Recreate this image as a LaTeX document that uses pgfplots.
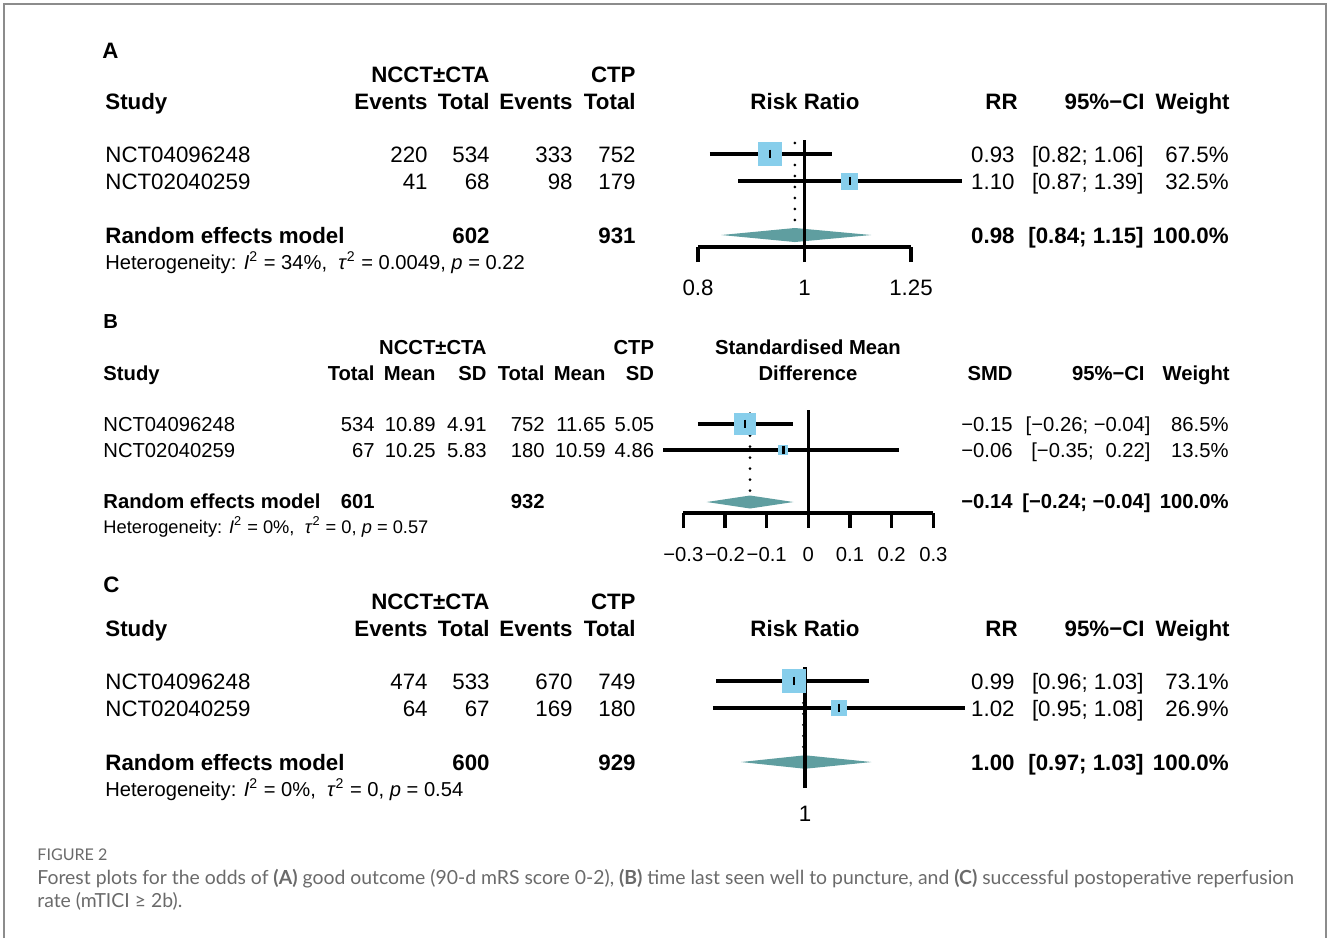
\documentclass[border=0pt]{standalone}
\usepackage{pgfplots}
\pgfplotsset{compat=1.18}
\usepackage{fontspec}
\setmainfont{Liberation Sans}
\newfontfamily\capfont{Lato}
\definecolor{sq}{HTML}{87CEEB}
\definecolor{dia}{HTML}{5F9EA0}
\definecolor{framec}{HTML}{8C8C8C}
\definecolor{capgray}{HTML}{6A6A6A}
\newcommand{\fs}{\fontsize{11.15}{13}\selectfont}
\newcommand{\fb}{\fontsize{10.12}{12}\selectfont}
\newcommand{\fh}{\fontsize{10.07}{12}\selectfont}
\newcommand{\fhb}{\fontsize{9.14}{11}\selectfont}
\newcommand{\het}[3]{Heterogeneity: \textit{I}\textsuperscript{2} = #1,\ \ \textit{τ}\textsuperscript{2} = #2, \textit{p} = #3}
\tikzset{
  R/.style={anchor=base east, inner sep=0pt, font=\fs},
  L/.style={anchor=base west, inner sep=0pt, font=\fs},
  RB/.style={anchor=base east, inner sep=0pt, font=\fs\bfseries},
  LB/.style={anchor=base west, inner sep=0pt, font=\fs\bfseries},
  CB/.style={anchor=base, inner sep=0pt, font=\fs\bfseries},
  r/.style={anchor=base east, inner sep=0pt, font=\fb},
  l/.style={anchor=base west, inner sep=0pt, font=\fb},
  rb/.style={anchor=base east, inner sep=0pt, font=\fb\bfseries},
  lb/.style={anchor=base west, inner sep=0pt, font=\fb\bfseries},
  cb/.style={anchor=base, inner sep=0pt, font=\fb\bfseries},
}
\pgfplotsset{
  forest/.style={
    scale only axis, clip=false, anchor=south west,
    axis y line=none, axis x line*=bottom,
    x axis line style={line width=1.6pt, -},
    major tick style={black, line width=1.6pt},
    major tick length=7.5pt, tick align=outside,
    ytick=\empty,
    xticklabel style={inner sep=0pt, anchor=base, yshift=-16.5pt},
  },
  ci/.style={no marks, black, line width=1.6pt},
  sqm/.style={only marks, mark=square*, mark options={fill=sq, draw=sq, line width=0pt}},
  est/.style={only marks, mark=|, mark size=2.2pt, mark options={black, line width=1.3pt}},
  dotl/.style={no marks, black, line width=1.5pt, line cap=round, dash pattern=on 0pt off 5.5pt},
  refl/.style={no marks, black, line width=1.6pt},
}
\begin{document}
\begin{tikzpicture}[x=0.5pt,y=-0.5pt]
\useasboundingbox (0,0) rectangle (1328,938);
\draw[framec, line width=1pt] (4,938) -- (4,4) -- (1326,4) -- (1326,938);

%%%%%%%%%%%%%%%% Panel A
\node[LB] at (102,58) {A};
\node[RB] at (490,82) {NCCT±CTA};
\node[RB] at (636,82) {CTP};
\node[LB] at (105,109) {Study};
\node[RB] at (428,109) {Events};
\node[RB] at (490,109) {Total};
\node[RB] at (573,109) {Events};
\node[RB] at (636,109) {Total};
\node[CB] at (805,109) {Risk Ratio};
\node[RB] at (1018,109) {RR};
\node[RB] at (1145,109) {95\%−CI};
\node[RB] at (1230,109) {Weight};
\node[L] at (105,162) {NCT04096248};
\node[R] at (428,162) {220};\node[R] at (490,162) {534};\node[R] at (573,162) {333};\node[R] at (636,162) {752};
\node[R] at (1015,162) {0.93};\node[R] at (1144,162) {[0.82; 1.06]};\node[R] at (1229,162) {67.5\%};
\node[L] at (105,189) {NCT02040259};
\node[R] at (428,189) {41};\node[R] at (490,189) {68};\node[R] at (573,189) {98};\node[R] at (636,189) {179};
\node[R] at (1015,189) {1.10};\node[R] at (1144,189) {[0.87; 1.39]};\node[R] at (1229,189) {32.5\%};
\node[LB] at (105,243) {Random effects model};
\node[RB] at (490,243) {602};\node[RB] at (636,243) {931};
\node[RB] at (1015,243) {0.98};\node[RB] at (1144,243) {[0.84; 1.15]};\node[RB] at (1229,243) {100.0\%};
\node[L, font=\fh] at (105,269) {\het{34\%}{0.0049}{0.22}};

\begin{axis}[forest, at={(349pt,-123.5pt)}, width=106.5pt, height=53.5pt,
  xmode=log, xmin=0.8, xmax=1.25, ymin=-4.444, ymax=-0.4815,
  xticklabel style={font=\fs},
  xtick={0.8,1,1.25}, xticklabels={0.8,1,1.25}]
  \addplot[dotl] coordinates {(0.98,-0.59) (0.98,-3.74)};
  \addplot[sqm, mark size=5.75pt] coordinates {(0.93,-1)};
  \addplot[sqm, mark size=4pt] coordinates {(1.10,-2)};
  \addplot[ci] coordinates {(0.82,-1) (1.06,-1)};
  \addplot[ci] coordinates {(0.87,-2) (1.39,-2)};
  \addplot[est] coordinates {(0.93,-1) (1.10,-2)};
  \addplot[fill=dia, draw=none] coordinates {(0.84,-4) (0.98,-3.74) (1.15,-4) (0.98,-4.26)} -- cycle;
  \addplot[refl] coordinates {(1,-0.4815) (1,-4.444)};
\end{axis}

%%%%%%%%%%%%%%%% Panel B
\node[lb] at (103,328) {B};
\node[rb] at (487,354) {NCCT±CTA};
\node[rb] at (654.5,354) {CTP};
\node[cb] at (808,354) {Standardised Mean};
\node[lb] at (103,380) {Study};
\node[rb] at (375,380) {Total};\node[rb] at (436,380) {Mean};\node[rb] at (487,380) {SD};
\node[rb] at (545,380) {Total};\node[rb] at (606,380) {Mean};\node[rb] at (654.5,380) {SD};
\node[cb] at (808,380) {Difference};
\node[rb] at (1013,380) {SMD};\node[rb] at (1145,380) {95\%−CI};\node[rb] at (1230,380) {Weight};
\node[l] at (103,431) {NCT04096248};
\node[r] at (375,431) {534};\node[r] at (436,431) {10.89};\node[r] at (487,431) {4.91};
\node[r] at (545,431) {752};\node[r] at (606,431) {11.65};\node[r] at (654.5,431) {5.05};
\node[r] at (1013,431) {−0.15};\node[r] at (1151,431) {[−0.26; −0.04]};\node[r] at (1229,431) {86.5\%};
\node[l] at (103,457) {NCT02040259};
\node[r] at (375,457) {67};\node[r] at (436,457) {10.25};\node[r] at (487,457) {5.83};
\node[r] at (545,457) {180};\node[r] at (606,457) {10.59};\node[r] at (654.5,457) {4.86};
\node[r] at (1013,457) {−0.06};\node[r] at (1151,457) {[−0.35;\hphantom{−}0.22]};\node[r] at (1229,457) {13.5\%};
\node[lb] at (103,508) {Random effects model};
\node[rb] at (375,508) {601};\node[rb] at (545,508) {932};
\node[rb] at (1013,508) {−0.14};\node[rb] at (1151,508) {[−0.24; −0.04]};\node[rb] at (1229,508) {100.0\%};
\node[l, font=\fhb] at (103,533) {\het{0\%}{0}{0.57}};

\begin{axis}[forest, at={(341.67pt,-256.5pt)}, width=125pt, height=51.5pt,
  xmin=-0.3, xmax=0.3, ymin=-4.423, ymax=-0.4615,
  xticklabel style={font=\fb},
  xtick={-0.3,-0.2,-0.1,0,0.1,0.2,0.3},
  xticklabels={−0.3,−0.2,−0.1,0,0.1,0.2,0.3}]
  \addplot[dotl] coordinates {(-0.14,-0.6) (-0.14,-3.72)};
  \addplot[sqm, mark size=5.4pt] coordinates {(-0.152,-1)};
  \addplot[sqm, mark size=2.25pt] coordinates {(-0.06,-2)};
  \addplot[ci] coordinates {(-0.265,-1) (-0.038,-1)};
  \addplot[ci] coordinates {(-0.348,-2) (0.218,-2)};
  \addplot[est] coordinates {(-0.152,-1) (-0.06,-2)};
  \addplot[fill=dia, draw=none] coordinates {(-0.244,-4) (-0.14,-3.75) (-0.036,-4) (-0.14,-4.25)} -- cycle;
  \addplot[refl] coordinates {(0,-0.4615) (0,-4.423)};
\end{axis}

%%%%%%%%%%%%%%%% Panel C
\node[LB] at (103,592) {C};
\node[RB] at (490,609) {NCCT±CTA};
\node[RB] at (636,609) {CTP};
\node[LB] at (105,636) {Study};
\node[RB] at (428,636) {Events};
\node[RB] at (490,636) {Total};
\node[RB] at (573,636) {Events};
\node[RB] at (636,636) {Total};
\node[CB] at (805,636) {Risk Ratio};
\node[RB] at (1018,636) {RR};
\node[RB] at (1145,636) {95\%−CI};
\node[RB] at (1230,636) {Weight};
\node[L] at (105,689) {NCT04096248};
\node[R] at (428,689) {474};\node[R] at (490,689) {533};\node[R] at (573,689) {670};\node[R] at (636,689) {749};
\node[R] at (1015,689) {0.99};\node[R] at (1144,689) {[0.96; 1.03]};\node[R] at (1229,689) {73.1\%};
\node[L] at (105,716) {NCT02040259};
\node[R] at (428,716) {64};\node[R] at (490,716) {67};\node[R] at (573,716) {169};\node[R] at (636,716) {180};
\node[R] at (1015,716) {1.02};\node[R] at (1144,716) {[0.95; 1.08]};\node[R] at (1229,716) {26.9\%};
\node[LB] at (105,770) {Random effects model};
\node[RB] at (490,770) {600};\node[RB] at (636,770) {929};
\node[RB] at (1015,770) {1.00};\node[RB] at (1144,770) {[0.97; 1.03]};\node[RB] at (1229,770) {100.0\%};
\node[L, font=\fh] at (105,796) {\het{0\%}{0}{0.54}};

\begin{axis}[forest, at={(391.61pt,-386.5pt)}, width=21.78pt, height=53pt,
  xmode=log, xmin=0.99005, xmax=1.01005, ymin=-4.407, ymax=-0.4815,
  xticklabel style={font=\fs},
  xtick={1}, xticklabels={1}, x axis line style={draw=none}]
  \addplot[dotl] coordinates {(0.9993,-0.59) (0.9993,-3.75)};
  \addplot[sqm, mark size=5.8pt] coordinates {(0.995,-1)};
  \addplot[sqm, mark size=3.6pt] coordinates {(1.0158,-2)};
  \addplot[ci] coordinates {(0.96,-1) (1.03,-1)};
  \addplot[ci] coordinates {(0.9586,-2) (1.0762,-2)};
  \addplot[est] coordinates {(0.995,-1) (1.0158,-2)};
  \addplot[fill=dia, draw=none] coordinates {(0.971,-4) (1.0,-3.75) (1.031,-4) (1.0,-4.25)} -- cycle;
  \addplot[refl] coordinates {(1,-0.4815) (1,-4.407)};
\end{axis}

%%%%%%%%%%%%%%%% Caption
\node[anchor=base west, inner sep=0pt, text=capgray, font=\capfont\fontsize{8.05}{9}\selectfont] at (37,860) {FIGURE 2};
\node[anchor=base west, inner sep=0pt, text=capgray, font=\capfont\fontsize{9.7}{11}\selectfont] at (37,884)
  {Forest plots for the odds of \textbf{(A)} good outcome (90-d mRS score 0-2), \textbf{(B)} time last seen well to puncture, and \textbf{(C)} successful postoperative reperfusion};
\node[anchor=base west, inner sep=0pt, text=capgray, font=\capfont\fontsize{9.7}{11}\selectfont] at (37,907)
  {rate (mTICI ≥ 2b).};
\end{tikzpicture}
\end{document}
